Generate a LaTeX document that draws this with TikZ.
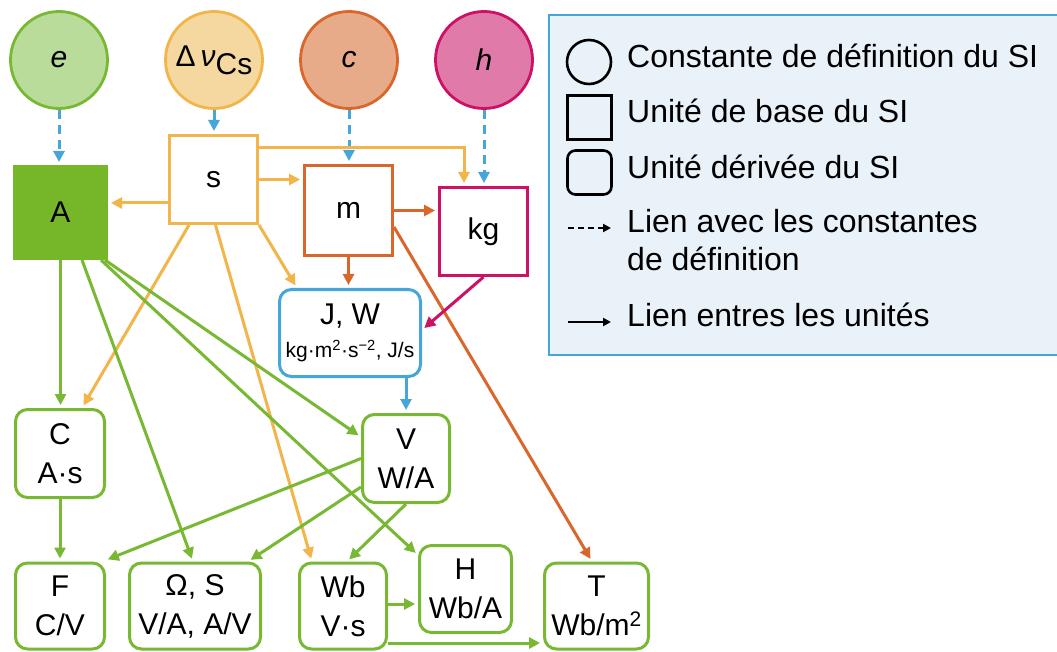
\documentclass[tikz,border=0pt]{standalone}
\usepackage{fontspec}
\setmainfont{Liberation Sans}
\usetikzlibrary{arrows.meta,calc}
\definecolor{grn}{HTML}{78B833}
\definecolor{grnfill}{HTML}{B9DC9A}
\definecolor{grnA}{HTML}{76B72A}
\definecolor{org}{HTML}{F2B54A}
\definecolor{orgfill}{HTML}{F5D8A0}
\definecolor{dorg}{HTML}{D9662A}
\definecolor{dorgfill}{HTML}{E8AB8A}
\definecolor{mag}{HTML}{CC1166}
\definecolor{magfill}{HTML}{E07AA8}
\definecolor{blu}{HTML}{46A6D9}
\definecolor{legfill}{HTML}{E9F2F9}
\tikzset{
  const/.style={circle, line width=2.8pt, minimum size=97pt, inner sep=0pt, font=\fontsize{30}{36}\selectfont},
  baseunit/.style={rectangle, line width=3pt, minimum width=88pt, minimum height=88pt, inner sep=0pt, fill=white, font=\fontsize{30}{36}\selectfont},
  derived/.style={rectangle, rounded corners=12pt, line width=3pt, draw=grn, fill=white, inner sep=0pt, align=center, font=\fontsize{30}{39}\selectfont},
  link/.style={-{Triangle[length=11pt,width=11pt]}, line width=3pt, shorten >=3pt},
  constlink/.style={-{Triangle[length=11pt,width=11pt]}, line width=3pt, color=blu, dash pattern=on 9pt off 6pt, shorten >=3pt},
  legtext/.style={anchor=base west, inner sep=0pt, font=\fontsize{32}{36}\selectfont},
  legsym/.style={draw=black, line width=2.6pt, inner sep=0pt},
}
\begin{document}
\begin{tikzpicture}[x=1pt,y=-1pt]
\useasboundingbox (0,0) rectangle (1057,652);
\clip (0,0) rectangle (1057,652);
\fill[white] (0,0) rectangle (1057,652);

% legend
\draw[fill=legfill, draw=blu, line width=2.8pt] (549,15) rectangle (1075,355);
\node[legsym, circle, minimum size=44pt] (lgc) at (589,62) {};
\node[legsym, rectangle, minimum size=44pt] (lgs) at (589.5,117.5) {};
\node[legsym, rectangle, rounded corners=8pt, minimum size=44pt] (lgd) at (589.5,172.5) {};
\coordinate (ld1) at (568,228);
\coordinate (ld2) at (611,228);
\draw[-{Triangle[length=8pt,width=8pt]}, line width=2.5pt, dash pattern=on 6pt off 4pt] (ld1) -- (ld2);
\coordinate (ls1) at (568,322);
\coordinate (ls2) at (611,322);
\draw[-{Triangle[length=8pt,width=8pt]}, line width=2.5pt] (ls1) -- (ls2);
\node[legtext] (lt1) at (627,68) {Constante de définition du SI};
\node[legtext] (lt2) at (627,123) {Unité de base du SI};
\node[legtext] (lt3) at (627,179) {Unité dérivée du SI};
\node[legtext] (lt4) at (627,233) {Lien avec les constantes};
\node[legtext] (lt5) at (627,271) {de définition};
\node[legtext] (lt6) at (627,326) {Lien entres les unités};

% constants
\node[const, draw=grn, fill=grnfill] (e) at (59,60) {\textit{e}};
\node[const, draw=org, fill=orgfill] (dnu) at (214,60) {Δ\,\textit{ν}\raisebox{-8pt}{Cs}};
\node[const, draw=dorg, fill=dorgfill] (c) at (349,60) {\textit{c}};
\node[const, draw=mag, fill=magfill] (h) at (484,60) {\textit{h}};

% base units
\node[baseunit, draw=grnA, fill=grnA, minimum width=92pt, minimum height=92pt] (A) at (60.5,212.5) {A};
\node[baseunit, draw=org] (s) at (213.5,179.5) {s};
\node[baseunit, draw=dorg, minimum height=90pt] (m) at (348.5,210.5) {m};
\node[baseunit, draw=mag] (kg) at (483.5,231.5) {kg};

% derived units
\node[derived, draw=blu, minimum width=141pt, minimum height=87pt] (JW) at (350,333)
  {J, W\\[-6pt]{\fontsize{21}{22}\selectfont kg·m\textsuperscript{2}·s\textsuperscript{−2}, J/s}};
\node[derived, minimum width=89pt, minimum height=88pt] (C) at (60,453.5) {C\\A·s};
\node[derived, minimum width=87pt, minimum height=88pt] (V) at (406,458.5) {V\\W/A};
\node[derived, minimum width=89pt, minimum height=86pt] (F) at (60,606) {F\\C/V};
\node[derived, minimum width=131pt, minimum height=86pt] (OS) at (195,606) {Ω, S\\V/A, A/V};
\node[derived, minimum width=87pt, minimum height=86pt] (Wb) at (343,606) {Wb\\V·s};
\node[derived, minimum width=92pt, minimum height=87pt] (H) at (465.5,589) {H\\Wb/A};
\node[derived, minimum width=104pt, minimum height=86pt] (T) at (596.5,606) {T\\Wb/m\textsuperscript{2}};

% links with constants
\draw[constlink] (e.south) -- (e.south |- A.north);
\draw[constlink, solid] (dnu.south) -- (dnu.south |- s.north);
\draw[constlink] (c.south) -- (c.south |- m.north);
\draw[constlink] (h.south) -- (h.south |- kg.north);

% links from s
\coordinate (sA) at ([yshift=-23.5pt]s.west);
\draw[link, org] (sA) -- (sA -| A.east);
\draw[link, org] (s.east) -- (s.east -| m.west);
\coordinate (sk) at ([yshift=31.5pt]s.east);
\coordinate (kgt) at ([xshift=-19.5pt]kg.north);
\draw[link, org] (sk) -| (kgt);
\draw[link, org] (s.south east) -- ([xshift=19pt]JW.north west);
\draw[link, org] ([xshift=-24.5pt]s.south) -- ([xshift=22pt]C.north);
\draw[link, org] ([xshift=2pt]s.south) -- ([xshift=-31pt]Wb.north);

% links from A
\draw[link, grn] (A.south) -- (A.south |- C.north);
\draw[link, grn] ([xshift=21.5pt]A.south) -- ([xshift=-2pt]OS.north);
\draw[link, grn] ([xshift=-3pt]A.south east) -- ([yshift=21.5pt]V.west);
\draw[link, grn] ([xshift=-7pt]A.south east) -- ([yshift=-11pt]H.north west);

% links from m, kg, JW
\draw[link, dorg] (m.east) -- (m.east -| kg.west);
\draw[link, dorg] (m.south) -- (m.south |- JW.north);
\draw[link, dorg] ([yshift=-16.5pt]m.east) -- ([xshift=-4.5pt]T.north);
\draw[link, mag] (kg.south) -- ([yshift=3pt]JW.east);
\coordinate (jv) at ([xshift=56pt]JW.south);
\draw[link, blu] (jv) -- (jv |- V.north);

% links from V, C, Wb
\draw[link, grn] (V.west) -- ([xshift=-1pt,yshift=1pt]F.north east);
\draw[link, grn] ([yshift=-28.5pt]V.west) -- ([xshift=-14pt]OS.north east);
\draw[link, grn] (V.south) -- ([xshift=4pt]Wb.north);
\draw[link, grn] (C.south) -- (F.north);
\coordinate (wh) at ([yshift=2pt]Wb.east);
\draw[link, grn] (wh) -- (wh -| H.west);
\coordinate (wt) at ([yshift=-37pt]Wb.east);
\draw[link, grn] (wt) -- (wt -| T.west);
\end{tikzpicture}
\end{document}
